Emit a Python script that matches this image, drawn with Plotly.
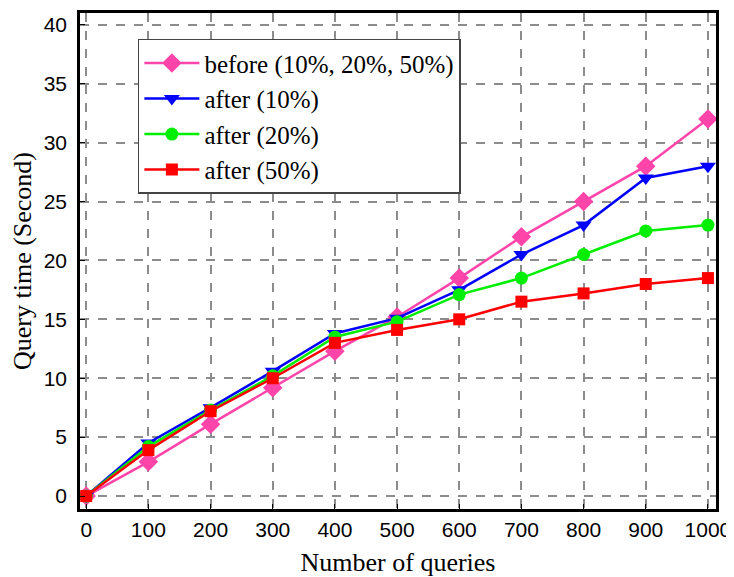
import plotly.graph_objects as go

queries = [0, 100, 200, 300, 400, 500, 600, 700, 800, 900, 1000]
before_all = [0, 2.9, 6.1, 9.2, 12.3, 15.2, 18.5, 22.0, 25.0, 28.0, 32.0]
after_10 = [0, 4.5, 7.5, 10.6, 13.8, 15.1, 17.5, 20.5, 23.0, 27.0, 28.0]
after_20 = [0, 4.2, 7.3, 10.2, 13.5, 14.8, 17.1, 18.5, 20.5, 22.5, 23.0]
after_50 = [0, 3.9, 7.2, 10.0, 13.0, 14.1, 15.0, 16.5, 17.2, 18.0, 18.5]

series = [
    ("before (10%, 20%, 50%)", before_all, "#ff44aa", "diamond", 15),
    ("after (10%)", after_10, "#0000ff", "triangle-down", 14),
    ("after (20%)", after_20, "#00ee00", "circle", 13),
    ("after (50%)", after_50, "#ff0000", "square", 12),
]

SERIF = "Liberation Serif"
SANS = "Liberation Sans"

fig = go.Figure()
for name, ys, color, sym, size in series:
    fig.add_trace(go.Scatter(
        x=queries, y=ys, name=name, mode="lines+markers",
        line=dict(color=color, width=2.5),
        marker=dict(symbol=sym, size=size, color=color),
        cliponaxis=False,
    ))

axis_common = dict(
    showgrid=True, gridcolor="#8c8c8c", griddash="dash", gridwidth=1.5,
    zeroline=False, showline=True, linecolor="black", linewidth=2.5,
    mirror=True, ticks="inside", ticklen=5, tickcolor="black",
    tickfont=dict(family=SANS, size=21, color="black"),
)

fig.update_xaxes(
    range=[-10, 1013], tickvals=queries,
    title=dict(text="Number of queries", font=dict(family=SERIF, size=26, color="black"), standoff=16),
    **axis_common,
)
fig.update_yaxes(
    range=[-1.1, 41], tickvals=[0, 5, 10, 15, 20, 25, 30, 35, 40],
    ticklabelstandoff=6,
    title=dict(text="Query time (Second)", font=dict(family=SERIF, size=26, color="black"), standoff=10),
    **axis_common,
)

# page body has an 8px margin, so the figure is shifted by 8px
fig.update_layout(
    width=726, height=569,
    margin=dict(l=72, r=18, t=2, b=68),
    plot_bgcolor="white", paper_bgcolor="white",
    font=dict(family=SERIF),
    legend=dict(
        x=0.091, y=0.948, xanchor="left", yanchor="top",
        bgcolor="white", bordercolor="#444444", borderwidth=1.5,
        font=dict(family=SERIF, size=25, color="black"),
        tracegroupgap=0, itemwidth=55,
    ),
)

fig.write_html("out.html")
